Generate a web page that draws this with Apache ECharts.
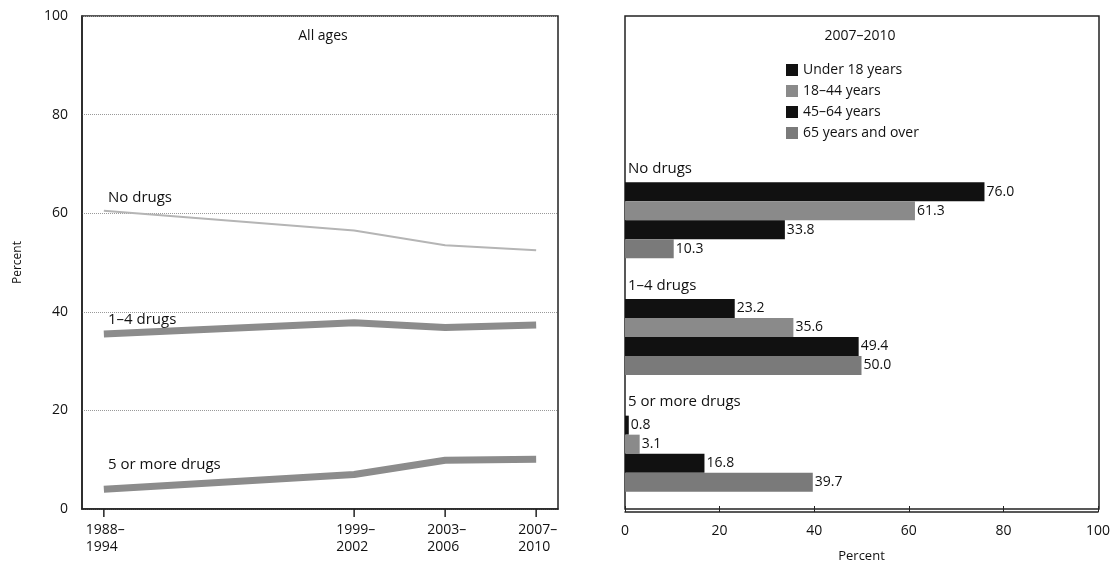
<!DOCTYPE html>
<html>
<head>
<meta charset="utf-8">
<script src="https://cdn.jsdelivr.net/npm/echarts@6/dist/echarts.min.js"></script>
<style>html,body{margin:0;padding:0;background:#fff}#chart{width:1113px;height:568px}</style>
</head>
<body>
<div id="chart"></div>
<script>
// left panel: all ages trend
var periods = ['1988–\n1994', '1999–\n2002', '2003–\n2006', '2007–\n2010'];
var periodPos = [0, 2.75, 3.75, 4.75];
var noDrugs = [60.5, 56.5, 53.5, 52.5];
var oneToFour = [35.5, 37.8, 36.8, 37.3];
var fivePlus = [4, 7, 9.9, 10.1];

// right panel: 2007-2010 by age
var drugGroups = ['No drugs', '1–4 drugs', '5 or more drugs'];
var ageGroups = ['Under 18 years', '18–44 years', '45–64 years', '65 years and over'];
var ageValues = [
    [76.0, 23.2, 0.8],
    [61.3, 35.6, 3.1],
    [33.8, 49.4, 16.8],
    [10.3, 50.0, 39.7]
];
var ageColors = ['#111', '#8a8a8a', '#111', '#7a7a7a'];

var font = 'Open Sans';

function pairs(vals) {
    return vals.map(function (v, i) { return [periodPos[i], v]; });
}

var series = [
    { name: 'No drugs', data: pairs(noDrugs), width: 2, color: '#b5b5b5' },
    { name: '1–4 drugs', data: pairs(oneToFour), width: 7, color: '#8c8c8c' },
    { name: '5 or more drugs', data: pairs(fivePlus), width: 7, color: '#8c8c8c' }
].map(function (s) {
    return {
        type: 'line', name: s.name, data: s.data, xAxisIndex: 0, yAxisIndex: 0,
        symbol: 'none', lineStyle: { width: s.width, color: s.color }, silent: true
    };
});

ageGroups.forEach(function (g, i) {
    series.push({
        type: 'bar', name: g, data: ageValues[i], xAxisIndex: 1, yAxisIndex: 1,
        barWidth: 19, barGap: '0%',
        itemStyle: { color: ageColors[i] },
        label: {
            show: true, position: 'right', distance: 2, color: '#111',
            fontFamily: font, fontSize: 14,
            formatter: function (p) { return p.value.toFixed(1); }
        }
    });
});

var chart = echarts.init(document.getElementById('chart'));
chart.setOption({
    animation: false,
    grid: [
        { left: 82, right: 555, top: 16, bottom: 59, show: true, borderColor: '#222', borderWidth: 1.5 },
        { left: 625, right: 14, top: 162, bottom: 56 }
    ],
    legend: {
        orient: 'vertical', left: 781, top: 58, itemGap: 7,
        itemWidth: 12, itemHeight: 12, icon: 'rect',
        data: ageGroups,
        textStyle: { fontFamily: font, fontSize: 14, color: '#111' }
    },
    xAxis: [
        {
            gridIndex: 0, type: 'value', min: -0.24, max: 4.99,
            axisLine: { show: true, onZero: false, lineStyle: { color: '#222', width: 1.5 } },
            axisTick: { show: false },
            splitLine: { show: false },
            axisLabel: { show: false }
        },
        {
            gridIndex: 1, type: 'value', min: 0, max: 100, interval: 20,
            name: 'Percent', nameLocation: 'middle', nameGap: 38,
            nameTextStyle: { fontFamily: font, fontSize: 13, color: '#111' },
            axisLine: { show: true, onZero: false, lineStyle: { color: '#222', width: 1.5 } },
            axisTick: { show: true, inside: true, length: 6, lineStyle: { color: '#222' } },
            splitLine: { show: false },
            axisLabel: { fontFamily: font, fontSize: 14, color: '#111', margin: 12 }
        }
    ],
    yAxis: [
        {
            gridIndex: 0, type: 'value', min: 0, max: 100, interval: 20,
            name: 'Percent', nameLocation: 'middle', nameGap: 58,
            nameTextStyle: { fontFamily: font, fontSize: 12, color: '#111' },
            axisLine: { show: true, onZero: false, lineStyle: { color: '#222', width: 1.5 } },
            axisTick: { show: false },
            splitLine: { lineStyle: { type: 'dotted', color: '#999' } },
            axisLabel: { fontFamily: font, fontSize: 14, color: '#111', margin: 14 }
        },
        {
            gridIndex: 1, type: 'category', data: drugGroups, inverse: true,
            axisLine: { show: false }, axisTick: { show: false },
            axisLabel: {
                inside: true, margin: 3, fontFamily: font, fontSize: 15, color: '#111',
                verticalAlign: 'bottom', padding: [0, 0, 44, 0]
            }
        }
    ],
    series: series
});

// panel box, titles, line labels and period ticks placed from the axes
var gfx = [
    { type: 'rect', shape: { x: 625, y: 16, width: 474, height: 493 }, style: { fill: 'none', stroke: '#222', lineWidth: 1.5 }, silent: true },
    { type: 'text', x: 323, y: 36, style: { text: 'All ages', font: '14px "Open Sans"', fill: '#111', align: 'center', verticalAlign: 'middle' } },
    { type: 'text', x: 860, y: 36, style: { text: '2007–2010', font: '14px "Open Sans"', fill: '#111', align: 'center', verticalAlign: 'middle' } }
];
[['No drugs', 198], ['1–4 drugs', 320], ['5 or more drugs', 465]].forEach(function (t) {
    gfx.push({ type: 'text', x: 108, y: t[1], style: { text: t[0], font: '15px "Open Sans"', fill: '#111', verticalAlign: 'middle' } });
});
periods.forEach(function (p, i) {
    var pt = chart.convertToPixel({ gridIndex: 0 }, [periodPos[i], 0]);
    gfx.push({ type: 'line', shape: { x1: pt[0], y1: pt[1], x2: pt[0], y2: pt[1] + 8 }, style: { stroke: '#222', lineWidth: 1.5 } });
    gfx.push({ type: 'text', x: pt[0] - 18, y: pt[1] + 13, style: { text: p, font: '14px "Open Sans"', fill: '#111', lineHeight: 17 } });
});
chart.setOption({ graphic: gfx });
</script>
</body>
</html>
